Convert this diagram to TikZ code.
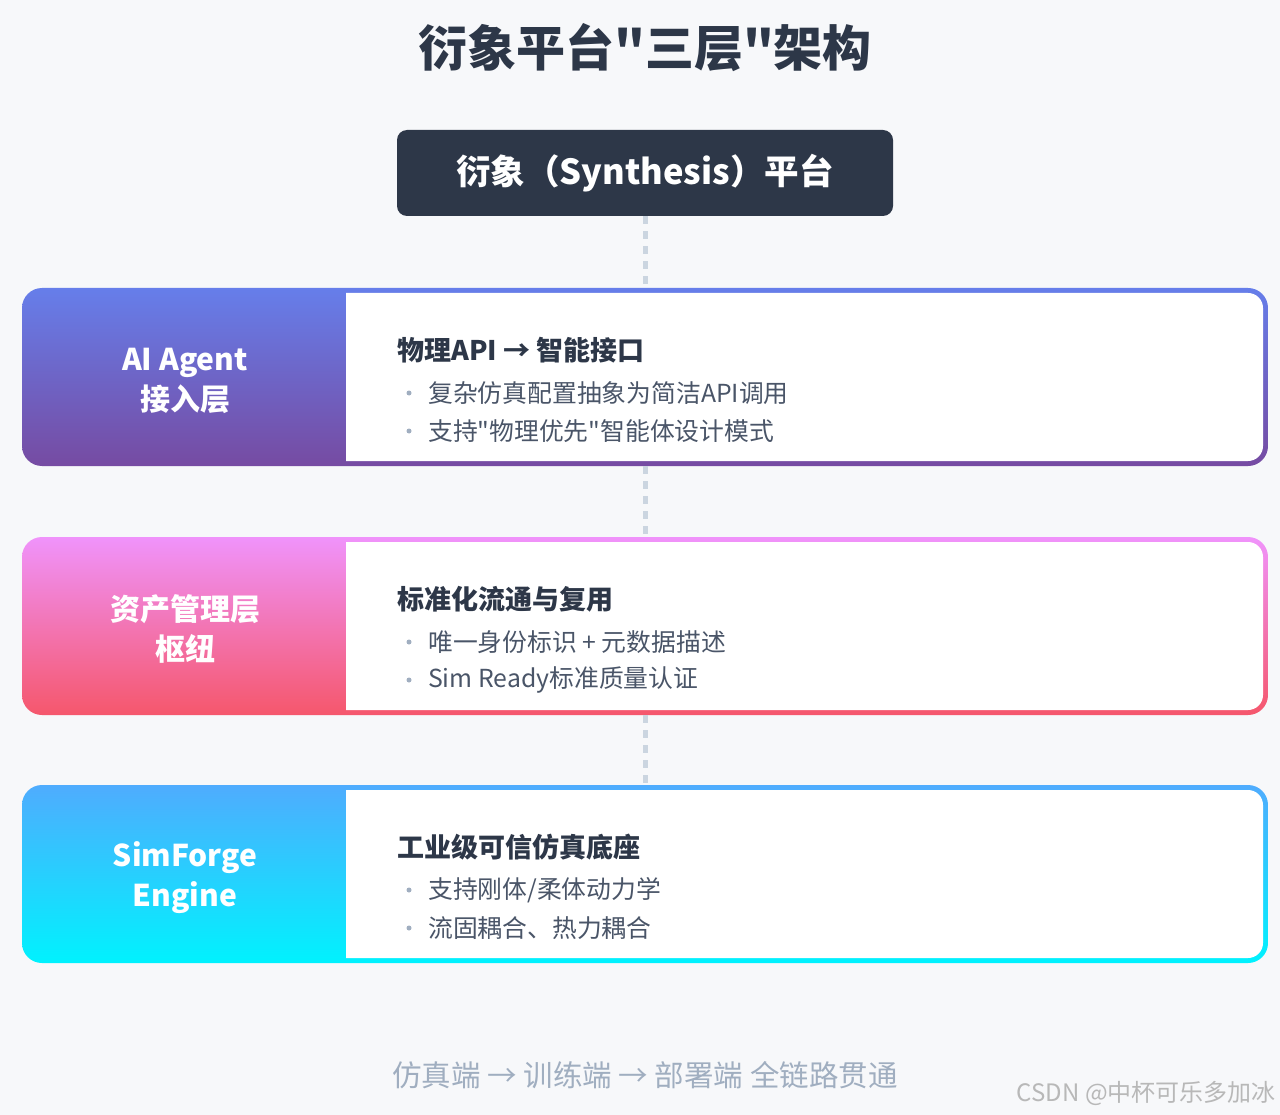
\documentclass[tikz,border=0pt]{standalone}
\usepackage{fontspec}
\setmainfont{Noto Sans CJK SC}[Ligatures=TeXOff]
\usetikzlibrary{calc}
\definecolor{bg}{HTML}{F7F8FA}
\definecolor{dark}{HTML}{2D3748}
\definecolor{body}{HTML}{4A5568}
\definecolor{muted}{HTML}{A0AEC0}
\definecolor{dashc}{HTML}{CBD5E0}
\definecolor{aT}{HTML}{667EEA}\definecolor{aB}{HTML}{764BA2}
\definecolor{bT}{HTML}{F093FB}\definecolor{bB}{HTML}{F5576C}
\definecolor{cT}{HTML}{4FACFE}\definecolor{cB}{HTML}{00F2FE}
\newcommand{\fsz}[2]{\fontsize{#1}{#2}\selectfont}
\tikzset{
  layerbox/.style={rectangle, rounded corners=20pt, minimum width=1246pt, minimum height=178pt, inner sep=0pt},
  conn/.style={draw=dashc, line width=5pt, dash pattern=on 8pt off 7pt},
  sidelabel/.style={text=white, font=\bfseries\fsz{30}{40}, align=center},
  rtitle/.style={anchor=west, text=dark, font=\bfseries\fsz{27}{30}, inner sep=0pt},
  bullet/.style={anchor=west, text=body, font=\fsz{24.8}{28}, inner sep=0pt},
  dot/.style={circle, fill=muted, inner sep=0pt, minimum size=5pt}
}
\newcommand{\innerwhite}[2]{%
  \fill[white] (346,#1) [rounded corners=15pt] -- (1263,#1) -- (1263,#2) [sharp corners] -- (346,#2) -- cycle;}
\begin{document}
\begin{tikzpicture}[x=1pt,y=-1pt]
\useasboundingbox (0,0) rectangle (1280,1115);
\fill[bg] (0,0) rectangle (1280,1115);

% title
\node[text=dark, font=\bfseries\fsz{49}{56}] (title) at (645,48) {衍象平台"三层"架构};

% top box
\node[rectangle, rounded corners=10pt, fill=dark, minimum width=496pt, minimum height=86pt, inner sep=0pt,
      text=white, font=\bfseries\fsz{34.5}{40}] (top) at (645,173) {衍象（Synthesis）平台};

% layers
\node[layerbox, top color=aT, bottom color=aB] (L1) at (645,377) {};
\node[layerbox, top color=bT, bottom color=bB] (L2) at (645,626) {};
\node[layerbox, top color=cT, bottom color=cB] (L3) at (645,874) {};

% connectors
\draw[conn] (top.south) -- (L1.north);
\draw[conn] (L1.south) -- (L2.north);
\draw[conn] (L2.south) -- (L3.north);

% inner white panels
\innerwhite{293}{461}
\innerwhite{542}{710}
\innerwhite{790}{958}

% side labels
\node[sidelabel] (s1) at (185,381) {AI Agent\\接入层};
\node[sidelabel] (s2) at (185,629) {资产管理层\\枢纽};
\node[sidelabel] (s3) at (185,878) {SimForge\\Engine};

% layer 1 text
\node[rtitle] (t1) at (397,350) {物理API → 智能接口};
\node[dot] (d11) at (409,393) {};
\node[bullet] (b11) at (428,393) {复杂仿真配置抽象为简洁API调用};
\node[dot] (d12) at (409,431) {};
\node[bullet] (b12) at (428,431) {支持"物理优先"智能体设计模式};

% layer 2 text
\node[rtitle] (t2) at (397,599) {标准化流通与复用};
\node[dot] (d21) at (409,642) {};
\node[bullet] (b21) at (428,642) {唯一身份标识 + 元数据描述};
\node[dot] (d22) at (409,680) {};
\node[bullet] (b22) at (428,680) {Sim Ready标准质量认证};

% layer 3 text
\node[rtitle] (t3) at (397,847) {工业级可信仿真底座};
\node[dot] (d31) at (409,890) {};
\node[bullet] (b31) at (428,890) {支持刚体/柔体动力学};
\node[dot] (d32) at (409,928) {};
\node[bullet] (b32) at (428,928) {流固耦合、热力耦合};

% footer
\node[text=muted, font=\fsz{29.5}{32}] (foot) at (645,1075) {仿真端 → 训练端 → 部署端 全链路贯通};
\node[anchor=east, text=black!28, font=\fsz{24}{28}, inner sep=0pt] (wm) at (1276,1093) {CSDN @中杯可乐多加冰};
\end{tikzpicture}
\end{document}
